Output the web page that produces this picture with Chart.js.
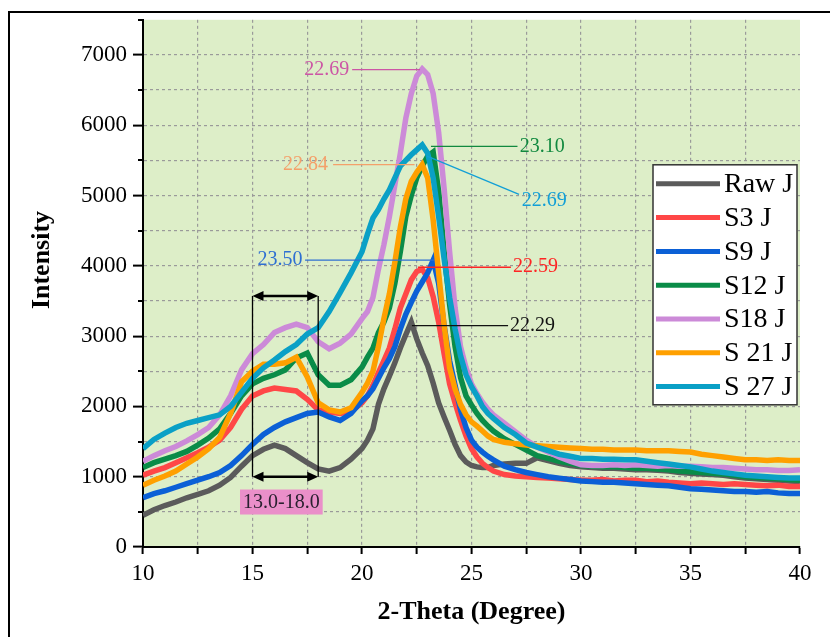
<!DOCTYPE html>
<html>
<head>
<meta charset="utf-8">
<script src="https://cdn.jsdelivr.net/npm/chart.js@4.4.1/dist/chart.umd.min.js"></script>
<style>
  html, body { margin: 0; padding: 0; background: #fff; }
  canvas { display: block; }
</style>
</head>
<body>
<canvas id="xrdChart" width="830" height="637"></canvas>
<script>
// 2-theta positions (degree)
const twoTheta = [
  10, 10.5, 11, 11.5, 12, 12.5, 13, 13.5, 14, 14.5, 15, 15.5, 16, 16.5, 17, 17.5, 18, 18.5, 19, 19.5, 20,
  20.25, 20.5, 20.75, 21, 21.25, 21.5, 21.75, 22, 22.25, 22.5, 22.75, 23, 23.25, 23.5, 23.75, 24, 24.25, 24.5, 24.75, 25, 25.25, 25.5, 25.75, 26,
  26.5, 27, 27.5, 28, 28.5, 29, 29.5, 30, 30.5, 31, 31.5, 32, 32.5, 33, 33.5, 34, 34.5, 35, 35.5, 36, 36.5, 37, 37.5, 38, 38.5, 39, 39.5, 40
];

const rawJ = [
  450, 530, 590, 640, 700, 750, 800, 880, 990, 1150, 1300, 1390, 1450, 1400, 1300, 1200, 1110, 1080, 1130, 1250, 1400,
  1520, 1680, 2030, 2250, 2430, 2620, 2830, 3020, 3200, 2960, 2760, 2580, 2330, 2050, 1850, 1660, 1460, 1300, 1210, 1160, 1140, 1130, 1130, 1160,
  1180, 1190, 1190, 1270, 1230, 1190, 1160, 1140, 1130, 1120, 1120, 1110, 1100, 1100, 1090, 1080, 1060, 1050, 1040, 1030, 1020, 1000, 980, 970, 960, 950, 940, 930
];
const s3J = [
  1020, 1080, 1130, 1200, 1270, 1340, 1420, 1520, 1700, 1960, 2150, 2220, 2260, 2240, 2220, 2100, 1950, 1920, 1900, 1930, 2050,
  2150, 2300, 2480, 2650, 2830, 3100, 3400, 3600, 3800, 3920, 3950, 3830, 3560, 3200, 2750, 2320, 2050, 1800, 1580, 1400, 1280, 1190, 1130, 1080,
  1030, 1010, 1000, 990, 980, 970, 960, 950, 950, 960, 940, 950, 950, 930, 940, 920, 910, 900, 910, 900, 890, 900, 890, 880, 870, 880, 860, 860
];
const s9J = [
  700, 760, 800, 850, 900, 950, 1000, 1060, 1160, 1300, 1460, 1600, 1700, 1780, 1840, 1900, 1920, 1850, 1800, 1900, 2080,
  2150, 2250, 2400, 2550, 2680, 2850, 3100, 3310, 3480, 3640, 3770, 3900, 4080, 3750, 3150, 2650, 2300, 1950, 1700, 1520, 1420, 1350, 1290, 1240,
  1150, 1100, 1060, 1030, 1000, 980, 960, 940, 930, 920, 920, 910, 900, 890, 880, 870, 850, 830, 820, 810, 800, 790, 790, 780, 790, 770, 760, 760
];
const s12J = [
  1130, 1200, 1250, 1300, 1360, 1450, 1550, 1680, 1900, 2150, 2320, 2400, 2450, 2520, 2690, 2760, 2450, 2300, 2300, 2380, 2560,
  2700, 2830, 3050, 3200, 3400, 3750, 4200, 4700, 5000, 5250, 5420, 5560, 5620, 5060, 4200, 3450, 2850, 2410, 2150, 2020, 1900, 1800, 1720, 1650,
  1540, 1460, 1380, 1300, 1260, 1220, 1190, 1160, 1150, 1140, 1140, 1130, 1120, 1120, 1110, 1100, 1080, 1070, 1060, 1050, 1040, 1020, 1000, 990, 980, 970, 960, 950
];
const s18J = [
  1220, 1300, 1370, 1430, 1510, 1600, 1700, 1880, 2150, 2520, 2750, 2880, 3050, 3120, 3170, 3120, 2920, 2820, 2900, 3030, 3250,
  3350, 3550, 3950, 4300, 4700, 5150, 5600, 6100, 6450, 6700, 6800, 6720, 6450, 5900, 5100, 4200, 3400, 2850, 2550, 2320, 2180, 2060, 1960, 1880,
  1760, 1640, 1520, 1420, 1350, 1280, 1220, 1170, 1160, 1160, 1170, 1160, 1170, 1160, 1150, 1160, 1150, 1150, 1140, 1130, 1130, 1120, 1110, 1100, 1100, 1090, 1090, 1100
];
const s21J = [
  880, 950, 1010, 1080, 1180, 1280, 1400, 1560, 1900, 2350, 2500, 2600, 2600, 2620, 2700, 2420, 2050, 1950, 1920, 1980, 2200,
  2330, 2500, 2850, 3250, 3600, 4050, 4550, 4950, 5200, 5330, 5440, 5250, 4650, 3900, 3150, 2550, 2250, 2030, 1880, 1780, 1720, 1650, 1580, 1530,
  1490, 1470, 1450, 1440, 1430, 1420, 1410, 1400, 1390, 1390, 1380, 1380, 1380, 1370, 1370, 1370, 1360, 1350, 1320, 1300, 1280, 1260, 1240, 1240, 1230, 1240, 1230, 1230
];
const s27J = [
  1400, 1530, 1620, 1700, 1760, 1800, 1840, 1880, 2000, 2200, 2400, 2550, 2660, 2780, 2880, 3030, 3120, 3350, 3620, 3900, 4200,
  4450, 4680, 4800, 4950, 5080, 5250, 5420, 5500, 5580, 5650, 5720, 5600, 5250, 4700, 4100, 3550, 3100, 2720, 2450, 2280, 2150, 2000, 1900, 1830,
  1700, 1600, 1480, 1420, 1370, 1320, 1290, 1260, 1260, 1250, 1250, 1240, 1240, 1220, 1200, 1180, 1160, 1140, 1110, 1080, 1060, 1040, 1020, 1010, 1000, 990, 980, 980
];

const seriesNames = ['Raw J', 'S3 J', 'S9 J', 'S12 J', 'S18 J', 'S 21 J', 'S 27 J'];
const seriesValues = [rawJ, s3J, s9J, s12J, s18J, s21J, s27J];
const seriesColors = ['#5b5b5b', '#ff4747', '#0b60d6', '#0a8c48', '#cc8ad8', '#ffa000', '#0aa0c6'];

// peak labels, in data units (2-theta, intensity)
const peakNotes = [
  { text: '22.69', color: '#cc55a5', at: [19.42, 6790], side: 'right', from: [19.55, 6790], to: [22.65, 6790] },
  { text: '22.84', color: '#f4a06a', at: [18.45, 5440], side: 'right', from: [18.68, 5440], to: [22.4, 5440] },
  { text: '23.10', color: '#11893f', at: [27.2, 5700], side: 'left', from: [23.15, 5700], to: [27.1, 5700] },
  { text: '22.69', color: '#129fd6', at: [27.3, 4930], side: 'left', from: [22.97, 5560], to: [27.17, 5016] },
  { text: '23.50', color: '#2e6fd2', at: [17.28, 4080], side: 'right', from: [17.4, 4080], to: [23.29, 4080] },
  { text: '22.59', color: '#ff2424', at: [26.9, 3980], side: 'left', from: [22.56, 3980], to: [26.8, 3980] },
  { text: '22.29', color: '#111111', at: [26.76, 3150], side: 'left', from: [22.28, 3150], to: [26.67, 3150] }
];
const rangeFrom = 15.0, rangeTo = 18.0;
const rangeTop = 3570, rangeBottom = 1000;
const rangeText = '13.0-18.0';

const serif = "'Liberation Serif', 'Times New Roman', serif";

function arrowHead(ctx, x, y, dir) {
  ctx.beginPath();
  ctx.moveTo(x, y);
  ctx.lineTo(x - dir * 11, y - 5);
  ctx.lineTo(x - dir * 11, y + 5);
  ctx.closePath();
  ctx.fill();
}

const xrdDecor = {
  id: 'xrdDecor',
  beforeDraw(chart) {
    const { ctx, chartArea: a } = chart;
    ctx.save();
    ctx.fillStyle = '#ddeec8';
    ctx.fillRect(a.left, a.top, a.right - a.left, a.bottom - a.top);
    ctx.restore();
  },
  afterDraw(chart) {
    const { ctx, chartArea: a } = chart;
    const xs = chart.scales.x, ys = chart.scales.y;
    ctx.save();

    // short minor ticks on the y axis
    ctx.strokeStyle = '#000';
    ctx.lineWidth = 2;
    ys.ticks.forEach(t => {
      if (t.value % 1000 !== 0) {
        const py = Math.round(ys.getPixelForValue(t.value));
        ctx.beginPath();
        ctx.moveTo(a.left - 5, py);
        ctx.lineTo(a.left, py);
        ctx.stroke();
      }
    });

    // peak labels
    ctx.font = '20px ' + serif;
    ctx.textBaseline = 'middle';
    peakNotes.forEach(n => {
      ctx.strokeStyle = n.color;
      ctx.fillStyle = n.color;
      ctx.lineWidth = 1.3;
      ctx.beginPath();
      ctx.moveTo(xs.getPixelForValue(n.from[0]), ys.getPixelForValue(n.from[1]));
      ctx.lineTo(xs.getPixelForValue(n.to[0]), ys.getPixelForValue(n.to[1]));
      ctx.stroke();
      ctx.textAlign = n.side;
      ctx.fillText(n.text, xs.getPixelForValue(n.at[0]), ys.getPixelForValue(n.at[1]));
    });

    // 2-theta range bracket
    const bx1 = xs.getPixelForValue(rangeFrom), bx2 = xs.getPixelForValue(rangeTo);
    const by1 = ys.getPixelForValue(rangeTop), by2 = ys.getPixelForValue(rangeBottom);
    ctx.strokeStyle = '#000';
    ctx.fillStyle = '#000';
    ctx.lineWidth = 1.3;
    ctx.beginPath();
    ctx.moveTo(bx1, by1); ctx.lineTo(bx1, by2);
    ctx.moveTo(bx2, by1); ctx.lineTo(bx2, by2);
    ctx.stroke();
    ctx.lineWidth = 2.5;
    [by1, by2].forEach(y => {
      ctx.beginPath();
      ctx.moveTo(bx1 + 6, y); ctx.lineTo(bx2 - 6, y);
      ctx.stroke();
      arrowHead(ctx, bx1, y, -1);
      arrowHead(ctx, bx2, y, 1);
    });
    ctx.font = '20px ' + serif;
    const tw = ctx.measureText(rangeText).width;
    const lx = (bx1 + bx2) / 2 - 4, ly = ys.getPixelForValue(640);
    ctx.fillStyle = '#ea8fc9';
    ctx.fillRect(lx - tw / 2 - 3, ly - 12.5, tw + 6, 25);
    ctx.fillStyle = '#2a2030';
    ctx.textAlign = 'center';
    ctx.fillText(rangeText, lx, ly + 1);

    // legend box
    const lgLeft = a.right - 147, lgTop = a.top + 145, lgW = 144, lgH = 240;
    ctx.fillStyle = '#fff';
    ctx.fillRect(lgLeft, lgTop, lgW, lgH);
    ctx.strokeStyle = '#333';
    ctx.lineWidth = 1.5;
    ctx.strokeRect(lgLeft, lgTop, lgW, lgH);
    ctx.font = '28px ' + serif;
    ctx.textAlign = 'left';
    chart.data.datasets.forEach((ds, i) => {
      const ry = lgTop + 19 + i * 33.8;
      ctx.strokeStyle = ds.borderColor;
      ctx.lineWidth = 5;
      ctx.beginPath();
      ctx.moveTo(lgLeft + 3, ry);
      ctx.lineTo(lgLeft + 67, ry);
      ctx.stroke();
      ctx.fillStyle = '#000';
      ctx.fillText(ds.label, lgLeft + 71, ry + 1);
    });

    // y axis title
    ctx.translate(42, 260);
    ctx.rotate(-Math.PI / 2);
    ctx.font = 'bold 26px ' + serif;
    ctx.fillStyle = '#000';
    ctx.textAlign = 'center';
    ctx.fillText('Intensity', 0, 0);
    ctx.setTransform(1, 0, 0, 1, 0, 0);

    // outer frame
    ctx.strokeStyle = '#000';
    ctx.lineWidth = 2;
    ctx.beginPath();
    ctx.moveTo(9, 640); ctx.lineTo(9, 12); ctx.lineTo(832, 12);
    ctx.stroke();
    ctx.restore();
  }
};

const datasets = seriesNames.map((name, i) => ({
  label: name,
  data: seriesValues[i].map((v, j) => ({ x: twoTheta[j], y: v })),
  borderColor: seriesColors[i],
  backgroundColor: seriesColors[i],
  borderWidth: 5.5,
  pointRadius: 0,
  tension: 0,
  order: seriesNames.length - i
}));

new Chart(document.getElementById('xrdChart'), {
  type: 'line',
  data: { datasets },
  plugins: [xrdDecor],
  options: {
    responsive: false,
    animation: false,
    devicePixelRatio: 1,
    layout: { padding: { left: 0, top: 17, right: 30, bottom: 0 } },
    plugins: { legend: { display: false }, tooltip: { enabled: false } },
    scales: {
      x: {
        type: 'linear',
        min: 10,
        max: 40,
        afterFit: s => { s.height = 90; },
        ticks: {
          stepSize: 2.5,
          padding: 6,
          color: '#000',
          font: { family: serif, size: 23 },
          callback: v => (v % 5 === 0 ? v : '')
        },
        grid: {
          color: c => (c.tick && c.tick.value === 40 ? 'rgba(0,0,0,0)' : '#9a9a9a'),
          lineWidth: 1.2,
          tickLength: 7,
          tickColor: '#000',
          tickWidth: 2,
          tickBorderDash: []
        },
        border: { color: '#000', width: 2, dash: [3, 3] },
        title: {
          display: true,
          text: '2-Theta (Degree)',
          color: '#000',
          font: { family: serif, size: 26, weight: 'bold' },
          padding: { top: 0, bottom: 9 }
        }
      },
      y: {
        type: 'linear',
        min: 0,
        max: 7500,
        afterFit: s => { s.width = 143; },
        ticks: {
          stepSize: 500,
          padding: 6,
          color: '#000',
          font: { family: serif, size: 23 },
          callback: v => (v % 1000 === 0 ? v : '')
        },
        grid: {
          color: c => (c.tick && c.tick.value === 7500 ? 'rgba(0,0,0,0)' : '#9a9a9a'),
          lineWidth: 1.2,
          tickLength: 10,
          tickColor: c => (c.tick && c.tick.value % 1000 === 0 ? '#000' : 'rgba(0,0,0,0)'),
          tickWidth: 2,
          tickBorderDash: []
        },
        border: { color: '#000', width: 2, dash: [3, 3] }
      }
    }
  }
});
</script>
</body>
</html>
